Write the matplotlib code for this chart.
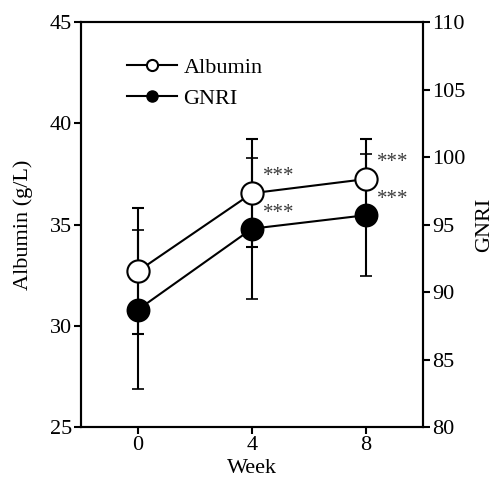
import matplotlib
matplotlib.use("Agg")
import matplotlib.pyplot as plt
from matplotlib.lines import Line2D

plt.rcParams['font.family'] = ['Liberation Serif', 'DejaVu Serif']

weeks = [0, 4, 8]
albumin = [32.7, 36.55, 37.25]
albumin_sd = [3.1, 2.67, 2.0]
gnri = [88.7, 94.7, 95.7]
gnri_sd = [5.9, 5.2, 4.5]
sig_albumin = ["", "***", "***"]
sig_gnri = ["", "***", "***"]

fig = plt.figure(figsize=(4.96, 4.8), dpi=100)
ax = fig.add_axes([0.163, 0.110, 0.690, 0.844])
ax2 = ax.twinx()
ax.set_zorder(ax2.get_zorder() + 1)
ax.patch.set_visible(False)

# GNRI on right axis (filled)
ax2.errorbar(weeks, gnri, yerr=gnri_sd, color='black', lw=1.5, capsize=4.5,
             capthick=1.5, elinewidth=1.5, marker='o', ms=16,
             mfc='black', mec='black', mew=1.2, zorder=3)
# Albumin on left axis (open)
ax.errorbar(weeks, albumin, yerr=albumin_sd, color='black', lw=1.5, capsize=4.5,
            capthick=1.5, elinewidth=1.5, marker='o', ms=16,
            mfc='white', mec='black', mew=1.5, zorder=3)

for x, y, s in zip(weeks, albumin, sig_albumin):
    if s:
        ax.annotate(s, (x, y), xytext=(19, 12), textcoords='offset points',
                    ha='center', va='center', fontsize=15, color='#3a3a3a')
for x, y, s in zip(weeks, gnri, sig_gnri):
    if s:
        ax2.annotate(s, (x, y), xytext=(19, 11), textcoords='offset points',
                     ha='center', va='center', fontsize=15, color='#3a3a3a')

ax.set_xlim(-2, 10)
ax.set_ylim(25, 45)
ax2.set_ylim(80, 110)
ax.set_xticks(weeks)
ax.set_yticks([25, 30, 35, 40, 45])
ax2.set_yticks([80, 85, 90, 95, 100, 105, 110])

for a in (ax, ax2):
    for sp in a.spines.values():
        sp.set_linewidth(1.5)
    a.tick_params(direction='out', length=5, width=1.5, labelsize=16, pad=1.5)

ax.set_xlabel("Week", fontsize=16, labelpad=3)
ax.set_ylabel("Albumin (g/L)", fontsize=16, labelpad=12)
ax2.set_ylabel("GNRI", fontsize=16, labelpad=7)

handles = [
    Line2D([], [], color='black', lw=1.5, marker='o', ms=8, mfc='white', mec='black', mew=1.5),
    Line2D([], [], color='black', lw=1.5, marker='o', ms=8, mfc='black', mec='black'),
]
ax.legend(handles, ["Albumin", "GNRI"], loc='center left', bbox_to_anchor=(0.134, 0.849),
          frameon=False, fontsize=16, handlelength=2.25, handletextpad=0.3,
          labelspacing=0.45, borderpad=0, borderaxespad=0)

fig.savefig("out.png", dpi=100)
